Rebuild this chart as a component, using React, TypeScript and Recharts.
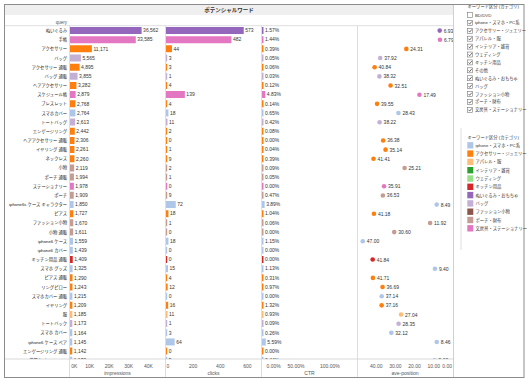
import React from "react";
import {
  ComposedChart,
  Bar,
  Scatter,
  XAxis,
  YAxis,
  Cell,
  LabelList,
} from "recharts";

const FONT = '"Liberation Sans", Arial, "Noto Sans CJK JP", sans-serif';

// rows (sorted by impressions, the list is cut off at the bottom like the original view)
const queries = [
  "ぬいぐるみ", "手帳", "アクセサリー", "バッグ", "アクセサリー 通販", "バッグ 通販",
  "ヘアアクセサリー", "スケジュール帳", "ブレスレット", "スマホカバー", "トートバッグ",
  "エンゲージリング", "ヘアアクセサリー 通販", "イヤリング 通販", "ネックレス", "小物",
  "ポーチ 通販", "ステーショナリー", "ポーチ", "iphone6s ケース キャラクター", "ピアス",
  "ファッション小物", "小物 通販", "iphone6 ケース", "iphone6 カバー", "キッチン用品 通販",
  "スマホ グッズ", "ピアス 通販", "リングピロー", "スマホカバー 通販", "イヤリング", "服",
  "トートバック", "スマホ カバー", "iphone6 ケース ペア", "エンゲージリング 通販",
  "携帯カバー iphone6",
];

const categories = [
  "ぬいぐるみ・おもちゃ", "文房具・ステーショナリー", "アクセサリー・ジュエリー", "バッグ",
  "アクセサリー・ジュエリー", "バッグ", "アクセサリー・ジュエリー", "文房具・ステーショナリー",
  "アクセサリー・ジュエリー", "iphone・スマホ・PC系", "バッグ", "アクセサリー・ジュエリー",
  "アクセサリー・ジュエリー", "アクセサリー・ジュエリー", "アクセサリー・ジュエリー", "ポーチ・財布",
  "ポーチ・財布", "文房具・ステーショナリー", "ポーチ・財布", "iphone・スマホ・PC系",
  "アクセサリー・ジュエリー", "ポーチ・財布", "ポーチ・財布", "iphone・スマホ・PC系",
  "iphone・スマホ・PC系", "キッチン用品", "iphone・スマホ・PC系", "アクセサリー・ジュエリー",
  "アクセサリー・ジュエリー", "iphone・スマホ・PC系", "アクセサリー・ジュエリー", "アパレル・服",
  "バッグ", "iphone・スマホ・PC系", "iphone・スマホ・PC系", "アクセサリー・ジュエリー",
  "iphone・スマホ・PC系",
];

const impressions = [
  36562, 33585, 11171, 5565, 4895, 3855, 3282, 2879, 2768, 2764, 2613, 2442, 2306,
  2261, 2260, 2119, 1994, 1978, 1909, 1850, 1727, 1670, 1611, 1559, 1439, 1409, 1325,
  1290, 1243, 1215, 1209, 1185, 1173, 1164, 1145, 1142, 1130,
];

const clicks = [
  573, 482, 44, 3, 3, 1, 4, 139, 4, 18, 11, 2, 0, 1, 9, 2, 1, 0, 9, 72, 18, 1, 0, 18,
  0, 0, 15, 4, 12, 0, 16, 11, 1, 3, 64, 0, 5,
];

const ctr = [
  1.57, 1.44, 0.39, 0.05, 0.06, 0.03, 0.12, 4.83, 0.14, 0.65, 0.42, 0.08, 0.0, 0.04,
  0.39, 0.09, 0.05, 0.0, 0.47, 3.89, 1.04, 0.06, 0.0, 1.15, 0.0, 0.0, 1.13, 0.31, 0.97,
  0.0, 1.32, 0.93, 0.09, 0.26, 5.59, 0.0, 0.44,
];

const avgPosition: (number | null)[] = [
  6.93, 6.79, 24.31, 37.92, 40.84, 38.32, 32.51, 17.49, 39.55, 28.43, 38.22, null,
  36.38, 35.14, 41.41, 25.21, null, 35.91, 36.53, 8.49, 41.18, 11.92, 30.6, 47.0, null,
  41.84, 9.4, 41.71, 36.69, 37.14, 37.16, 27.04, 28.35, 32.12, 8.46, null, 9.6,
];

const legendNames = [
  "iphone・スマホ・PC系", "アクセサリー・ジュエリー", "アパレル・服", "インテリア・雑貨",
  "ウェディング", "キッチン用品", "ぬいぐるみ・おもちゃ", "バッグ", "ファッション小物",
  "ポーチ・財布", "文房具・ステーショナリー",
];
const legendColors = [
  "#aec7e8", "#ff7f0e", "#ffbb78", "#2ca02c", "#98df8a", "#d62728", "#9467bd",
  "#c5b0d5", "#8c564b", "#c49c94", "#e377c2",
];

const filterItems = [
  "BD/DVD", "iphone・スマホ・PC系", "アクセサリー・ジュエリー", "アパレル・服",
  "インテリア・雑貨", "ウェディング", "キッチン用品", "その他", "ぬいぐるみ・おもちゃ",
  "バッグ", "ファッション小物", "ポーチ・財布", "文房具・ステーショナリー",
];
const filterChecked = [false, true, true, true, true, true, true, true, true, true, true, true, true];

const impressionTicks = [0, 10000, 20000, 30000, 40000];
const clickTicks = [0, 200, 400, 600];
const ctrTicks = [0, 50, 100];
const positionTicks = [0, 10, 20, 30, 40];

const rows = queries.map((query, i) => ({
  query,
  impressions: impressions[i],
  clicks: clicks[i],
  ctr: ctr[i],
  pos: avgPosition[i],
  color: legendColors[legendNames.indexOf(categories[i])],
}));

const CLIP_TOP = 26;
const CLIP_H = 333;
const ROWS_H = queries.length * 9.16;
const NO_MARGIN = { top: 0, right: 0, bottom: 0, left: 0 };

const QueryTick = (props: any) => (
  <text
    x={props.x}
    y={props.y}
    textAnchor="end"
    dominantBaseline="central"
    fontSize={4.3}
    fill="#222"
    fontFamily={FONT}
  >
    {props.payload.value}
  </text>
);

const PosDot = (props: any) => {
  const { cx, cy } = props;
  const p = props.payload ?? props;
  if (p.pos == null || cx == null || cy == null || Number.isNaN(cx)) return <g />;
  return (
    <g>
      <circle cx={cx} cy={cy} r={2.3} fill={p.color} />
      <text
        x={cx + 4}
        y={cy}
        dominantBaseline="central"
        fontSize={5}
        fill="#333"
        fontFamily={FONT}
      >
        {p.pos.toFixed(2)}
      </text>
    </g>
  );
};

interface BarPanelProps {
  left: number;
  width: number;
  dataKey: string;
  domain: [number, number];
  fmt: (v: number) => string;
  showQuery?: boolean;
  minSize?: number;
}

const BarPanel: React.FC<BarPanelProps> = ({ left, width, dataKey, domain, fmt, showQuery, minSize = 0 }) => (
  <div style={{ position: "absolute", left, top: CLIP_TOP, width, height: CLIP_H, overflow: "hidden" }}>
    <ComposedChart layout="vertical" width={width} height={ROWS_H} data={rows} margin={NO_MARGIN}>
      <XAxis type="number" domain={domain} allowDataOverflow hide />
      <YAxis
        type="category"
        dataKey="query"
        scale="band"
        hide={!showQuery}
        width={65}
        interval={0}
        axisLine={false}
        tickLine={false}
        tickSize={0}
        tickMargin={3}
        tick={<QueryTick />}
      />
      <Bar dataKey={dataKey} barSize={7} minPointSize={minSize} isAnimationActive={false}>
        {rows.map((r, i) => (
          <Cell key={i} fill={r.color} />
        ))}
        <LabelList
          dataKey={dataKey}
          position="right"
          offset={1.5}
          formatter={(v: any) => fmt(Number(v))}
          fontSize={5}
          fill="#333"
          fontFamily={FONT}
        />
      </Bar>
    </ComposedChart>
  </div>
);

interface AxisPanelProps {
  left: number;
  width: number;
  domain: [number, number];
  ticks: number[];
  fmt: (v: number) => string;
  title: string;
  reversed?: boolean;
  zeroDx: number;
}

const AxisPanel: React.FC<AxisPanelProps> = ({ left, width, domain, ticks, fmt, title, reversed, zeroDx }) => {
  const renderTick = (props: any) => {
    const v = props.payload.value;
    let anchor: "start" | "middle" | "end" = "middle";
    let dx = 0;
    if (v === 0) {
      anchor = reversed ? "end" : "start";
      dx = zeroDx;
    }
    return (
      <text x={props.x + dx} y={props.y + 8.8} textAnchor={anchor} fontSize={5} fill="#555" fontFamily={FONT}>
        {fmt(v)}
      </text>
    );
  };
  return (
    <div style={{ position: "absolute", left, top: 358, width, height: 21 }}>
      <ComposedChart layout="vertical" width={width} height={21} data={[{ query: "", v: 0 }]} margin={NO_MARGIN}>
        <XAxis
          type="number"
          domain={domain}
          ticks={ticks}
          reversed={reversed}
          allowDataOverflow
          interval={0}
          axisLine={false}
          tickLine={false}
          tickSize={0}
          tickMargin={0}
          height={20}
          tick={renderTick}
          label={{ value: title, position: "insideBottom", offset: 4, fontSize: 5, fill: "#555", fontFamily: FONT }}
        />
        <YAxis type="category" dataKey="query" hide />
        <Bar dataKey="v" fill="none" isAnimationActive={false} />
      </ComposedChart>
    </div>
  );
};

const Frame = () => {
  const vLines = [69.5, 165.5, 261.5, 357.5];
  return (
    <svg width={529} height={383} style={{ position: "absolute", left: 0, top: 0 }}>
      <rect x={0} y={0} width={529} height={383} fill="#fff" />
      <rect x={5} y={5} width={448} height={10} fill="#efefef" />
      <text x={229} y={10.3} textAnchor="middle" dominantBaseline="central" fontSize={5.5} fontWeight="bold" fill="#333" fontFamily={FONT}>
        ポテンシャルワード
      </text>
      <text x={67} y={22} textAnchor="end" dominantBaseline="central" fontSize={4.5} fill="#555" fontFamily={FONT}>
        query
      </text>
      <line x1={5} x2={453.5} y1={25.7} y2={25.7} stroke="#d6d6d6" strokeWidth={0.8} />
      <line x1={5} x2={453.5} y1={359} y2={359} stroke="#cfcfcf" strokeWidth={0.8} />
      {vLines.map((x) => (
        <line key={x} x1={x} x2={x} y1={25.7} y2={377.5} stroke="#d6d6d6" strokeWidth={0.8} />
      ))}
      <line x1={453.5} x2={453.5} y1={5} y2={377.5} stroke="#c4c4c4" strokeWidth={0.8} />
      <line x1={461} x2={461} y1={128} y2={250} stroke="#d6d6d6" strokeWidth={0.8} />
      <rect x={4.5} y={4.5} width={519.5} height={373} fill="none" stroke="#8c8c8c" strokeWidth={1} />

      {/* filter legend */}
      <text x={467.5} y={6.8} dominantBaseline="central" fontSize={4.3} fill="#333" fontFamily={FONT}>
        キーワード区分 (カテゴリ)
      </text>
      {filterItems.map((name, i) => {
        const y = 15 + i * 7.9;
        return (
          <g key={name}>
            <rect x={467.5} y={y - 2.5} width={5} height={5} fill="#fff" stroke="#777" strokeWidth={0.6} />
            {filterChecked[i] && (
              <path d={`M${468.5} ${y} L${469.7} ${y + 1.3} L${471.8} ${y - 1.4}`} fill="none" stroke="#333" strokeWidth={0.7} />
            )}
            <text x={475} y={y} dominantBaseline="central" fontSize={4.3} fill="#333" fontFamily={FONT}>
              {name}
            </text>
          </g>
        );
      })}

      {/* colour legend */}
      <text x={467.5} y={137.3} dominantBaseline="central" fontSize={4.3} fill="#333" fontFamily={FONT}>
        キーワード区分 (カテゴリ)
      </text>
      {legendNames.map((name, i) => {
        const y = 145.3 + i * 8.3;
        return (
          <g key={name}>
            <rect x={467.3} y={y - 3.2} width={6} height={6.4} fill={legendColors[i]} />
            <text x={475.5} y={y} dominantBaseline="central" fontSize={4.3} fill="#333" fontFamily={FONT}>
              {name}
            </text>
          </g>
        );
      })}
    </svg>
  );
};

export default function App() {
  return (
    <div style={{ position: "absolute", left: 0, top: 0, width: 529, height: 383, overflow: "hidden", background: "#fff" }}>
      <Frame />
      <BarPanel left={5} width={160} dataKey="impressions" domain={[0, 48500]} fmt={(v) => v.toLocaleString("en-US")} showQuery />
      <BarPanel left={166} width={95} dataKey="clicks" domain={[0, 700]} fmt={(v) => String(v)} minSize={1.2} />
      <BarPanel left={262} width={95} dataKey="ctr" domain={[0, 140]} fmt={(v) => `${v.toFixed(2)}%`} minSize={1.5} />
      <div style={{ position: "absolute", left: 357, top: CLIP_TOP, width: 101, height: CLIP_H, overflow: "hidden" }}>
        <ComposedChart layout="vertical" width={96} height={ROWS_H} data={rows} margin={NO_MARGIN}>
          <XAxis type="number" domain={[0, 50]} reversed allowDataOverflow hide />
          <YAxis type="category" dataKey="query" scale="band" hide />
          <Scatter dataKey="pos" shape={<PosDot />} isAnimationActive={false} />
        </ComposedChart>
      </div>
      <AxisPanel left={70} width={95} domain={[0, 48500]} ticks={impressionTicks} fmt={(v) => `${v / 1000}K`} title="impressions" zeroDx={1.3} />
      <AxisPanel left={166} width={95} domain={[0, 700]} ticks={clickTicks} fmt={(v) => String(v)} title="clicks" zeroDx={0.5} />
      <AxisPanel left={262} width={95} domain={[0, 140]} ticks={ctrTicks} fmt={(v) => `${v.toFixed(2)}%`} title="CTR" zeroDx={4.5} />
      <AxisPanel left={357} width={96} domain={[0, 50]} ticks={positionTicks} fmt={(v) => v.toFixed(2)} title="ave-position" reversed zeroDx={-1} />
    </div>
  );
}
